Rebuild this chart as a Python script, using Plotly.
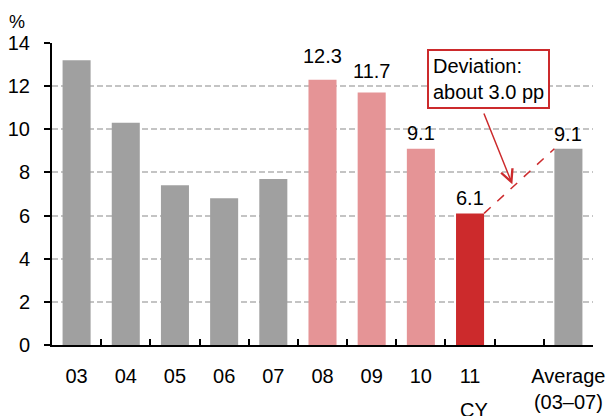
import plotly.graph_objects as go

# Category labels along the x axis (one empty slot before the average)
categories = ["03", "04", "05", "06", "07", "08", "09", "10", "11", " ", "Average<br>(03–07)"]
# Values in percent
values = [13.2, 10.3, 7.4, 6.8, 7.7, 12.3, 11.7, 9.1, 6.1, None, 9.1]
# Which bars carry a value label
show_label = [False, False, False, False, False, True, True, True, True, False, True]
# Distance (px) from bar top to the middle of its value label
label_lift = [0, 0, 0, 0, 0, 24, 22, 16, 15, 0, 15]

GRAY = "#a0a0a0"
PINK = "#e59496"
RED = "#cc2a2c"
colors = [GRAY] * 5 + [PINK] * 3 + [RED, GRAY, GRAY]

FONT = "Liberation Sans, Arial, sans-serif"
FS = 20
BAR_W = 0.57

fig = go.Figure(
    go.Bar(
        x=categories,
        y=values,
        width=BAR_W,
        marker=dict(color=colors, line=dict(width=0)),
        hoverinfo="skip",
    )
)

# Value labels above selected bars
for i, (v, s, lift) in enumerate(zip(values, show_label, label_lift)):
    if s and v is not None:
        fig.add_annotation(
            xref="x", yref="y", x=i, y=v,
            text=f"{v:.1f}", showarrow=False,
            yanchor="middle", yshift=lift,
            font=dict(family=FONT, size=FS, color="black"),
        )

# Dashed connector from the 2011 bar to the average bar
i11 = 8
iavg = 10
fig.add_shape(
    type="line",
    xref="x", yref="y",
    x0=i11 + BAR_W / 2, y0=values[i11],
    x1=iavg - BAR_W / 2, y1=values[iavg],
    line=dict(color=RED, width=1.5, dash="dash"),
)

# Callout box with arrow
fig.add_annotation(
    xref="x", yref="y", axref="x", ayref="y",
    x=8.86, y=7.45, ax=8.27, ay=10.8,
    text="", showarrow=True,
    arrowhead=5, arrowsize=1.6, arrowwidth=1.5, arrowcolor=RED,
)
fig.add_annotation(
    xref="x", yref="y",
    x=8.38, y=12.35,
    text="Deviation:<br>about 3.0 pp",
    showarrow=False, align="left",
    font=dict(family=FONT, size=FS, color="black"),
    bordercolor=RED, borderwidth=2, borderpad=4, bgcolor="white",
)

# Unit label and calendar-year note
fig.add_annotation(
    xref="paper", yref="paper", x=-0.065, y=1.07,
    text="%", showarrow=False, xanchor="center", yanchor="middle",
    font=dict(family=FONT, size=18, color="black"),
)
fig.add_annotation(
    xref="x", yref="paper", x=i11, y=-0.215, xshift=4,
    text="CY", showarrow=False, yanchor="middle",
    font=dict(family=FONT, size=FS, color="black"),
)

fig.update_layout(
    width=610, height=416,
    margin=dict(l=52, r=17, t=43, b=71),
    paper_bgcolor="white", plot_bgcolor="white",
    showlegend=False,
    bargap=0.43,
    font=dict(family=FONT, size=FS, color="black"),
)
fig.update_xaxes(
    type="category",
    automargin=False,
    tickangle=0,
    tickson="boundaries",
    ticks="inside", ticklen=6, tickwidth=2, tickcolor="black",
    showline=True, linecolor="black", linewidth=2,
    showgrid=False,
    ticklabelstandoff=12,
    tickfont=dict(family=FONT, size=FS, color="black"),
)
fig.update_yaxes(
    automargin=False,
    range=[0, 14], dtick=2,
    ticks="outside", ticklen=6, tickwidth=2, tickcolor="black",
    showline=True, linecolor="black", linewidth=2,
    showgrid=True, gridcolor="#c4c4c4", gridwidth=2, griddash="6px,3px",
    zeroline=False,
    ticklabelstandoff=10,
    tickfont=dict(family=FONT, size=FS, color="black"),
)

fig.write_html("out.html")
